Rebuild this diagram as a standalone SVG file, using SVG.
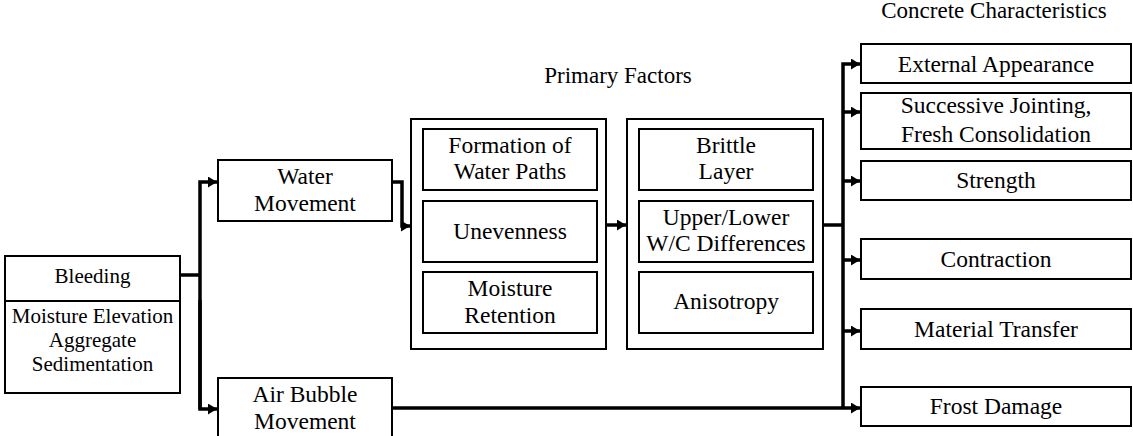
<svg xmlns="http://www.w3.org/2000/svg" width="1133" height="436" viewBox="0 0 1133 436">
<style>
  .box { fill: #fff; stroke: #000; stroke-width: 2; }
  .t, .ts, .title { font-family: 'Liberation Serif', Tinos, 'Times New Roman', Times, 'DejaVu Serif', 'Noto Serif', serif; fill: #000; text-anchor: middle; }
  .t { font-size: 23.5px; }
  .ts { font-size: 21px; }
  .title { font-size: 23px; }
  .c { fill: none; stroke: #000; stroke-width: 3.5; }
</style>
<defs>
  <marker id="arr" markerUnits="userSpaceOnUse" markerWidth="10" markerHeight="11" refX="9" refY="5.5" orient="auto">
    <path d="M0,0 L9,5.5 L0,11 z" fill="#000"/>
  </marker>
</defs>
<rect width="1133" height="436" fill="#fff"/>

<text class="title" x="618" y="83">Primary Factors</text>
<text class="title" x="994" y="18">Concrete Characteristics</text>

<g id="connectors">
  <polyline class="c" points="180,275 200,275"/>
  <polyline class="c" points="200,409 200,182 217,182" marker-end="url(#arr)"/>
  <polyline class="c" points="200,300 200,409 217,409" marker-end="url(#arr)"/>
  <polyline class="c" points="392,182 402,182 402,226 410,226" marker-end="url(#arr)"/>
  <polyline class="c" points="606,225 626,225" marker-end="url(#arr)"/>
  <polyline class="c" points="823,225 843,225"/>
  <polyline class="c" points="843,408 843,64 860,64" marker-end="url(#arr)"/>
  <polyline class="c" points="843,112 860,112" marker-end="url(#arr)"/>
  <polyline class="c" points="843,181 860,181" marker-end="url(#arr)"/>
  <polyline class="c" points="843,260 860,260" marker-end="url(#arr)"/>
  <polyline class="c" points="843,331 860,331" marker-end="url(#arr)"/>
  <polyline class="c" points="392,408 860,408" marker-end="url(#arr)"/>
</g>

<g id="bleeding">
  <rect class="box" x="5" y="256" width="175" height="137"/>
  <line x1="5" y1="301" x2="180" y2="301" stroke="#000" stroke-width="2"/>
  <text class="ts" x="92.5" y="283">Bleeding</text>
  <text class="ts" x="92.5" y="323">Moisture Elevation</text>
  <text class="ts" x="92.5" y="347">Aggregate</text>
  <text class="ts" x="92.5" y="371">Sedimentation</text>
</g>

<g id="water-movement">
  <rect class="box" x="218" y="160" width="174" height="61"/>
  <text class="t" x="305" y="184">Water</text>
  <text class="t" x="305" y="211">Movement</text>
</g>

<g id="air-bubble">
  <rect class="box" x="218" y="378" width="174" height="72"/>
  <text class="t" x="305" y="402">Air Bubble</text>
  <text class="t" x="305" y="429">Movement</text>
</g>

<g id="primary-1">
  <rect class="box" x="411" y="119" width="195" height="230"/>
  <rect class="box" x="423" y="129" width="174" height="61"/>
  <text class="t" x="510" y="153">Formation of</text>
  <text class="t" x="510" y="179">Water Paths</text>
  <rect class="box" x="423" y="201" width="174" height="61"/>
  <text class="t" x="510" y="239">Unevenness</text>
  <rect class="box" x="423" y="272" width="174" height="61"/>
  <text class="t" x="510" y="296">Moisture</text>
  <text class="t" x="510" y="323">Retention</text>
</g>

<g id="primary-2">
  <rect class="box" x="627" y="119" width="196" height="230"/>
  <rect class="box" x="639" y="129" width="174" height="61"/>
  <text class="t" x="726" y="153">Brittle</text>
  <text class="t" x="726" y="179">Layer</text>
  <rect class="box" x="639" y="201" width="174" height="61"/>
  <text class="t" x="726" y="225">Upper/Lower</text>
  <text class="t" x="726" y="251">W/C Differences</text>
  <rect class="box" x="639" y="272" width="174" height="61"/>
  <text class="t" x="726" y="309">Anisotropy</text>
</g>

<g id="external-appearance">
  <rect class="box" x="861" y="44" width="270" height="39"/>
  <text class="t" x="996" y="72">External Appearance</text>
</g>
<g id="successive-jointing">
  <rect class="box" x="861" y="93" width="270" height="56"/>
  <text class="t" x="996" y="113">Successive Jointing,</text>
  <text class="t" x="996" y="142">Fresh Consolidation</text>
</g>
<g id="strength">
  <rect class="box" x="861" y="161" width="270" height="39"/>
  <text class="t" x="996" y="188">Strength</text>
</g>
<g id="contraction">
  <rect class="box" x="861" y="239" width="270" height="40"/>
  <text class="t" x="996" y="267">Contraction</text>
</g>
<g id="material-transfer">
  <rect class="box" x="861" y="309" width="270" height="40"/>
  <text class="t" x="996" y="337">Material Transfer</text>
</g>
<g id="frost-damage">
  <rect class="box" x="861" y="387" width="270" height="39"/>
  <text class="t" x="996" y="414">Frost Damage</text>
</g>
</svg>
